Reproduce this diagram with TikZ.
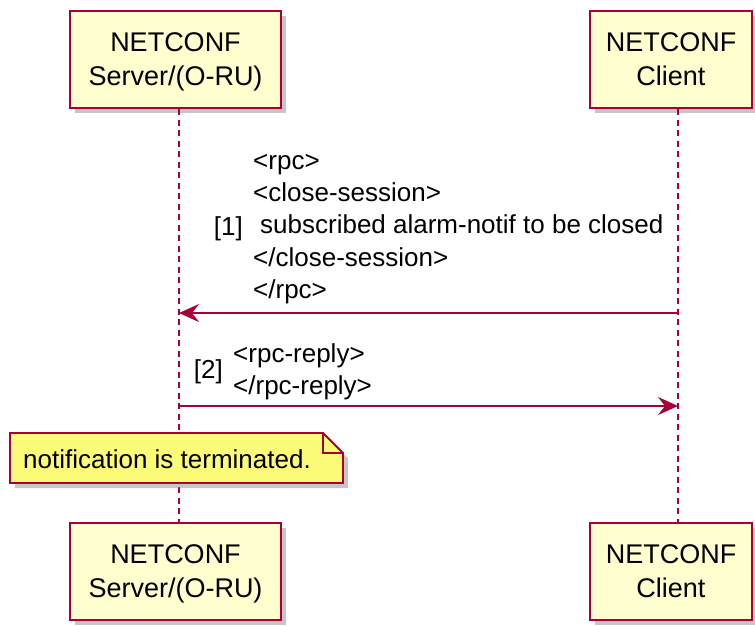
\documentclass[tikz,border=0pt]{standalone}
\usepackage{fontspec}
\setmainfont{Liberation Sans}
\usetikzlibrary{calc,positioning,shadows,arrows.meta}
\definecolor{umlred}{HTML}{A80036}
\definecolor{umlbox}{HTML}{FEFECE}
\definecolor{umlnote}{HTML}{FBFB77}

\begin{document}
\begin{tikzpicture}[x=1pt,y=-1pt,
    actor/.style={rectangle,draw=umlred,fill=umlbox,line width=2.5pt,minimum height=97pt,
      align=center,text depth=0pt,font=\fontsize{27}{34}\selectfont,
      drop shadow={shadow xshift=5pt,shadow yshift=-5pt,fill=black!50,opacity=.45}},
    lifeline/.style={draw=umlred,line width=1.8pt,dash pattern=on 6pt off 4.5pt},
    msg/.style={draw=umlred,line width=1.8pt,-{Stealth[length=20pt,width=18pt,inset=7pt]}},
    msgtext/.style={inner sep=0pt,align=left,font=\fontsize{26}{32.3}\selectfont}]
  \useasboundingbox (0,0) rectangle (755,625);
  \foreach \n/\y in {top/59.5,bot/571.5}{
    \node (srv\n) [actor,minimum width=211pt] at (175.5,\y) {NETCONF\\Server/(O-RU)};
    \node (cli\n) [actor,minimum width=162pt] at (671,\y) {NETCONF\\Client};
  }
  \coordinate (srvl) at ($ (srvtop.south)+(3.5,0) $);
  \coordinate (clil) at ($ (clitop.south)+(7,0) $);
  \draw [lifeline] (srvl) -- ($ (srvbot.north)+(3.5,0) $);
  \draw [lifeline] (clil) -- ($ (clibot.north)+(7,0) $);
  % close-session request
  \node (req) [msgtext,anchor=west] at (253,229)
    {<rpc>\\<close-session>\\\hspace*{7pt}subscribed alarm-notif to be closed\\</close-session>\\</rpc>};
  \node (num1) [msgtext,left=10pt of req] {[1]};
  \draw [msg] (clil |- 0,313) -- (srvl |- 0,313);
  % reply
  \node (reply) [msgtext,anchor=west] at (233,372) {<rpc-reply>\\</rpc-reply>};
  \node (num2) [msgtext,left=10pt of reply] {[2]};
  \draw [msg] (srvl |- 0,406) -- (clil |- 0,406);
  % note
  \fill [black!50,opacity=.45] (15,438) -- (328,438) -- (348,458) -- (348,488) -- (15,488) -- cycle;
  \filldraw [draw=umlred,fill=umlnote,line width=1.8pt]
    (10,433) -- (323,433) -- (343,453) -- (343,483) -- (10,483) -- cycle;
  \draw [umlred,line width=1.8pt] (323,433) -- (323,453) -- (343,453);
  \node (note) [msgtext,anchor=base west] at (23,468) {notification is terminated.};
\end{tikzpicture}
\end{document}
